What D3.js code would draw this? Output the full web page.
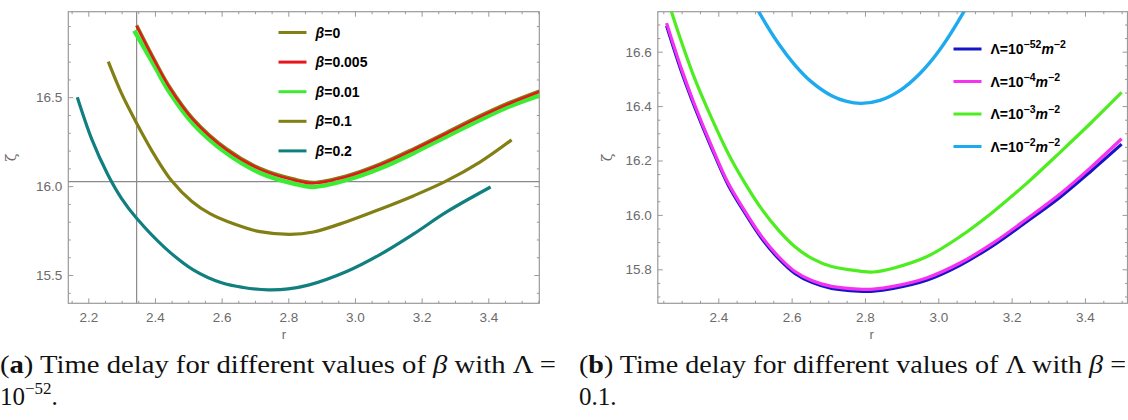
<!DOCTYPE html>
<html>
<head>
<meta charset="utf-8">
<script src="https://cdn.jsdelivr.net/npm/d3@7"></script>
<style>
body { margin: 0; background: #fff; }
svg { display: block; }
</style>
</head>
<body>
<svg id="fig" width="1128" height="420"></svg>
<script>
// ---------- panel (a): zeta(r) for several beta, Lambda = 1e-52
var betaNames = ["0", "0.005", "0.01", "0.1", "0.2"];
var betaColors = ["#827f14", "#e8161c", "#3cec34", "#827f14", "#0f7f80"];

var rBeta0 = [2.345, 2.40, 2.445, 2.515, 2.615, 2.715, 2.815, 2.875, 2.975, 3.075, 3.175, 3.275, 3.375, 3.465, 3.553];
var zetaBeta0 = [16.905, 16.705, 16.555, 16.377, 16.209, 16.100, 16.040, 16.021, 16.058, 16.124, 16.209, 16.302, 16.395, 16.471, 16.535];
var rBeta005 = [2.345, 2.40, 2.445, 2.515, 2.615, 2.715, 2.815, 2.875, 2.975, 3.075, 3.175, 3.275, 3.375, 3.465, 3.553];
var zetaBeta005 = [16.901, 16.700, 16.550, 16.372, 16.204, 16.095, 16.035, 16.016, 16.053, 16.119, 16.204, 16.297, 16.390, 16.466, 16.530];
var rBeta01 = [2.338, 2.40, 2.445, 2.515, 2.615, 2.715, 2.815, 2.875, 2.975, 3.075, 3.175, 3.275, 3.375, 3.465, 3.553];
var zetaBeta01 = [16.875, 16.672, 16.525, 16.350, 16.185, 16.075, 16.015, 15.996, 16.035, 16.100, 16.186, 16.280, 16.372, 16.450, 16.510];
var rBeta1 = [2.26, 2.30, 2.345, 2.40, 2.45, 2.51, 2.565, 2.64, 2.715, 2.805, 2.875, 2.975, 3.075, 3.175, 3.27, 3.375, 3.47];
var zetaBeta1 = [16.70, 16.52, 16.354, 16.17, 16.03, 15.915, 15.845, 15.785, 15.744, 15.729, 15.742, 15.800, 15.870, 15.945, 16.025, 16.135, 16.260];
var rBeta2 = [2.167, 2.21, 2.258, 2.30, 2.345, 2.43, 2.515, 2.60, 2.665, 2.74, 2.80, 2.86, 2.975, 3.075, 3.175, 3.275, 3.407];
var zetaBeta2 = [16.50, 16.266, 16.067, 15.93, 15.819, 15.653, 15.529, 15.456, 15.43, 15.417, 15.422, 15.443, 15.52, 15.615, 15.73, 15.855, 15.995];

var rTicksA = [2.2, 2.4, 2.6, 2.8, 3.0, 3.2, 3.4];
var zetaTicksA = [15.5, 16.0, 16.5];
var gridRA = 2.345, gridZetaA = 16.025;

// ---------- panel (b): zeta(r) for several Lambda, beta = 0.1
var lambdaExps = ["52", "4", "3", "2"];
var lambdaColors = ["#1515c8", "#f531f2", "#4ded1f", "#1eaaef"];

var rL52 = [2.259, 2.30, 2.336, 2.382, 2.427, 2.473, 2.518, 2.564, 2.609, 2.655, 2.709, 2.782, 2.823, 2.877, 2.968, 3.059, 3.15, 3.241, 3.332, 3.414, 3.50];
var zetaL52 = [16.695, 16.525, 16.395, 16.245, 16.110, 16.006, 15.914, 15.840, 15.785, 15.752, 15.730, 15.720, 15.720, 15.730, 15.760, 15.815, 15.888, 15.975, 16.065, 16.158, 16.260];
var rL4 = [2.259, 2.30, 2.336, 2.382, 2.427, 2.473, 2.518, 2.564, 2.609, 2.655, 2.709, 2.782, 2.823, 2.877, 2.968, 3.059, 3.15, 3.241, 3.332, 3.414, 3.50];
var zetaL4 = [16.705, 16.535, 16.403, 16.252, 16.117, 16.013, 15.921, 15.847, 15.792, 15.759, 15.737, 15.727, 15.727, 15.737, 15.768, 15.823, 15.897, 15.985, 16.077, 16.172, 16.280];
var rL3 = [2.255, 2.291, 2.336, 2.382, 2.427, 2.473, 2.518, 2.564, 2.609, 2.655, 2.709, 2.782, 2.823, 2.877, 2.968, 3.059, 3.15, 3.241, 3.332, 3.414, 3.50];
var zetaL3 = [16.82, 16.67, 16.50, 16.355, 16.226, 16.116, 16.022, 15.944, 15.883, 15.840, 15.810, 15.794, 15.790, 15.804, 15.846, 15.920, 16.012, 16.116, 16.230, 16.335, 16.450];
var rL2 = [2.47, 2.509, 2.564, 2.609, 2.655, 2.709, 2.75, 2.79, 2.841, 2.895, 2.95, 3.005, 3.077, 3.11];
var zetaL2 = [16.85, 16.75, 16.63, 16.551, 16.488, 16.438, 16.417, 16.41, 16.421, 16.457, 16.52, 16.609, 16.764, 16.85];

var rTicksB = [2.4, 2.6, 2.8, 3.0, 3.2, 3.4];
var zetaTicksB = [15.8, 16.0, 16.2, 16.4, 16.6];

function zip(r, z) {
	return r.map(function(v, i) { return {r: v, z: z[i]}; });
}

var svg = d3.select("#fig");
var clipId = 0;

function drawPanel(p) {
	var x = d3.scaleLinear().domain(p.xDomain).range([p.left, p.right]);
	var y = d3.scaleLinear().domain(p.yDomain).range([p.bottom, p.top]);
	var g = svg.append("g");

	// minor tick values (every step) that are not majors
	function minors(domain, step, majors) {
		var out = [];
		var i0 = Math.ceil(domain[0] / step), i1 = Math.floor(domain[1] / step);
		for (var i = i0; i <= i1; i++) {
			var v = +(i * step).toFixed(4);
			if (!majors.some(function(m) { return Math.abs(m - v) < 1e-6; })) out.push(v);
		}
		return out;
	}
	var xMin = minors(p.xDomain, p.xMinor, p.xTicks);
	var yMin = minors(p.yDomain, p.yMinor, p.yTicks);
	var fmt = d3.format(".1f");

	function styleAxis(sel) {
		sel.select(".domain").remove();
		sel.selectAll("line").attr("stroke", "#9a9a9a");
		sel.attr("font-family", "Liberation Sans, Arial, sans-serif").attr("font-size", 13.5);
		sel.selectAll("text").attr("fill", "#6b6b6b");
	}

	// bottom / top
	g.append("g").attr("transform", "translate(0," + p.bottom + ")")
		.call(d3.axisBottom(x).tickValues(p.xTicks).tickSizeInner(-5).tickSizeOuter(0).tickPadding(9).tickFormat(fmt))
		.call(styleAxis);
	g.append("g").attr("transform", "translate(0," + p.bottom + ")")
		.call(d3.axisBottom(x).tickValues(xMin).tickSizeInner(-2.5).tickSizeOuter(0).tickFormat(""))
		.call(styleAxis);
	g.append("g").attr("transform", "translate(0," + p.top + ")")
		.call(d3.axisTop(x).tickValues(p.xTicks).tickSizeInner(-5).tickSizeOuter(0).tickFormat(""))
		.call(styleAxis);
	g.append("g").attr("transform", "translate(0," + p.top + ")")
		.call(d3.axisTop(x).tickValues(xMin).tickSizeInner(-2.5).tickSizeOuter(0).tickFormat(""))
		.call(styleAxis);
	// left / right
	g.append("g").attr("transform", "translate(" + p.left + ",0)")
		.call(d3.axisLeft(y).tickValues(p.yTicks).tickSizeInner(-5).tickSizeOuter(0).tickPadding(6).tickFormat(fmt))
		.call(styleAxis);
	g.append("g").attr("transform", "translate(" + p.left + ",0)")
		.call(d3.axisLeft(y).tickValues(yMin).tickSizeInner(-2.5).tickSizeOuter(0).tickFormat(""))
		.call(styleAxis);
	g.append("g").attr("transform", "translate(" + p.right + ",0)")
		.call(d3.axisRight(y).tickValues(p.yTicks).tickSizeInner(-5).tickSizeOuter(0).tickFormat(""))
		.call(styleAxis);
	g.append("g").attr("transform", "translate(" + p.right + ",0)")
		.call(d3.axisRight(y).tickValues(yMin).tickSizeInner(-2.5).tickSizeOuter(0).tickFormat(""))
		.call(styleAxis);

	// frame
	g.append("rect")
		.attr("x", p.left).attr("y", p.top)
		.attr("width", p.right - p.left).attr("height", p.bottom - p.top)
		.attr("fill", "none").attr("stroke", "#9a9a9a").attr("stroke-width", 1.2);

	// grid lines
	if (p.gridR != null) {
		g.append("line")
			.attr("x1", x(p.gridR)).attr("x2", x(p.gridR))
			.attr("y1", p.top).attr("y2", p.bottom)
			.attr("stroke", "#8a8a8a").attr("stroke-width", 1.2);
	}
	if (p.gridZeta != null) {
		g.append("line")
			.attr("x1", p.left).attr("x2", p.right)
			.attr("y1", y(p.gridZeta)).attr("y2", y(p.gridZeta))
			.attr("stroke", "#8a8a8a").attr("stroke-width", 1.2);
	}

	// axis titles
	g.append("text")
		.attr("transform", "translate(" + p.zetaX + "," + ((p.top + p.bottom) / 2) + ") rotate(-90)")
		.attr("text-anchor", "middle")
		.attr("font-family", "DejaVu Serif, serif").attr("font-size", 14)
		.attr("fill", "#6b6b6b")
		.text("ζ");
	g.append("text")
		.attr("x", (p.left + p.right) / 2 + p.rShift).attr("y", 339)
		.attr("text-anchor", "middle")
		.attr("font-family", "Liberation Sans, Arial, sans-serif").attr("font-size", 13)
		.attr("fill", "#6b6b6b")
		.text("r");

	// curves
	clipId++;
	svg.append("clipPath").attr("id", "clip" + clipId)
		.append("rect")
		.attr("x", p.left).attr("y", p.top)
		.attr("width", p.right - p.left).attr("height", p.bottom - p.top);

	var line = d3.line()
		.x(function(d) { return x(d.r); })
		.y(function(d) { return y(d.z); })
		.curve(d3.curveCatmullRom.alpha(0.5));

	var curves = g.append("g").attr("clip-path", "url(#clip" + clipId + ")");
	p.series.forEach(function(s) {
		curves.append("path")
			.datum(s.data)
			.attr("d", line)
			.attr("fill", "none")
			.attr("stroke", s.color)
			.attr("stroke-width", s.width)
			.attr("stroke-linecap", "butt")
			.attr("stroke-linejoin", "round");
	});

	// legend
	var lg = g.append("g")
		.attr("font-family", "Liberation Sans, Arial, sans-serif")
		.attr("font-weight", "bold");
	p.legend.forEach(function(item, i) {
		var ly = p.legendY + i * p.legendGap;
		lg.append("line")
			.attr("x1", p.legendX).attr("x2", p.legendX + 28)
			.attr("y1", ly).attr("y2", ly)
			.attr("stroke", item.color).attr("stroke-width", 3);
		var t = lg.append("text")
			.attr("x", p.legendX + 37).attr("y", ly + 5)
			.attr("font-size", p.legendFont);
		item.label(t);
	});

	return {x: x, y: y};
}

// ---------- panel (a)
var seriesA = [
	{data: zip(rBeta0, zetaBeta0), color: betaColors[0], width: 3.4},
	{data: zip(rBeta01, zetaBeta01), color: betaColors[2], width: 4.6},
	{data: zip(rBeta005, zetaBeta005), color: betaColors[1], width: 2.4},
	{data: zip(rBeta1, zetaBeta1), color: betaColors[3], width: 3.2},
	{data: zip(rBeta2, zetaBeta2), color: betaColors[4], width: 3.2}
];

drawPanel({
	left: 68.3, right: 539.3, top: 11.7, bottom: 303.3,
	xDomain: [2.14, 3.553], yDomain: [15.341, 16.981],
	xTicks: rTicksA, yTicks: zetaTicksA, xMinor: 0.05, yMinor: 0.1,
	gridR: gridRA, gridZeta: gridZetaA,
	zetaX: 16, rShift: -20,
	series: seriesA,
	legendX: 278.5, legendY: 32.5, legendGap: 29.6, legendFont: 14,
	legend: betaNames.map(function(n, i) {
		return {
			color: betaColors[i],
			label: function(t) {
				t.append("tspan").attr("font-style", "italic").text("β");
				t.append("tspan").text("=" + n);
			}
		};
	})
});

// ---------- panel (b)
var seriesB = [
	{data: zip(rL52, zetaL52), color: lambdaColors[0], width: 3.2},
	{data: zip(rL4, zetaL4), color: lambdaColors[1], width: 3.2},
	{data: zip(rL3, zetaL3), color: lambdaColors[2], width: 3.2},
	{data: zip(rL2, zetaL2), color: lambdaColors[3], width: 3.4}
];

drawPanel({
	left: 657.8, right: 1127.5, top: 11.7, bottom: 303.3,
	xDomain: [2.235, 3.516], yDomain: [15.675, 16.747],
	xTicks: rTicksB, yTicks: zetaTicksB, xMinor: 0.05, yMinor: 0.05,
	gridR: null, gridZeta: null,
	zetaX: 612, rShift: -21,
	series: seriesB,
	legendX: 953.5, legendY: 49, legendGap: 32.5, legendFont: 14,
	legend: lambdaExps.map(function(e, i) {
		return {
			color: lambdaColors[i],
			label: function(t) {
				t.append("tspan").text("Λ=10");
				t.append("tspan").attr("dy", -6).attr("font-size", 10.5).text("−" + e);
				t.append("tspan").attr("dy", 6).attr("font-style", "italic").text("m");
				t.append("tspan").attr("dy", -6).attr("font-size", 10.5).text("−2");
			}
		};
	})
});

// ---------- captions
var cap = svg.append("g")
	.attr("font-family", "Liberation Serif, Times New Roman, serif")
	.attr("font-size", 25)
	.attr("fill", "#111");

var c1 = cap.append("text").attr("x", 0).attr("y", 373)
	.attr("textLength", 556).attr("lengthAdjust", "spacingAndGlyphs");
c1.append("tspan").text("(");
c1.append("tspan").attr("font-weight", "bold").text("a");
c1.append("tspan").text(")  Time delay for different values of ");
c1.append("tspan").attr("font-style", "italic").text("β");
c1.append("tspan").text(" with Λ =");

var c2 = cap.append("text").attr("x", 0).attr("y", 405);
c2.append("tspan").text("10");
c2.append("tspan").attr("dy", -11).attr("font-size", 17).text("−52");
c2.append("tspan").attr("dy", 11).text(".");

var c3 = cap.append("text").attr("x", 579).attr("y", 373)
	.attr("textLength", 547).attr("lengthAdjust", "spacingAndGlyphs");
c3.append("tspan").text("(");
c3.append("tspan").attr("font-weight", "bold").text("b");
c3.append("tspan").text(") Time delay for different values of Λ with ");
c3.append("tspan").attr("font-style", "italic").text("β");
c3.append("tspan").text(" =");

cap.append("text").attr("x", 579).attr("y", 405).text("0.1.");
</script>
</body>
</html>
